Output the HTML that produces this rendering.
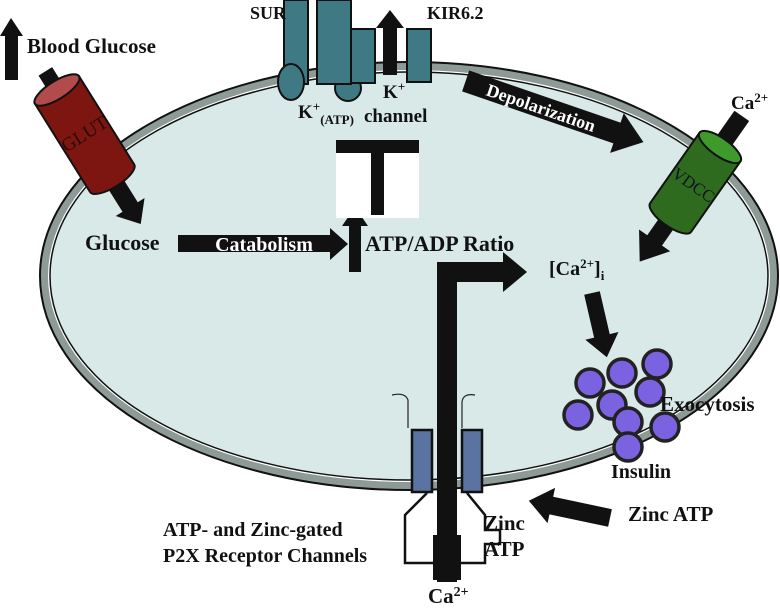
<!DOCTYPE html>
<html><head><meta charset="utf-8"><style>
html,body{margin:0;padding:0;background:#fff;}
svg{display:block;}
text{font-family:"Liberation Serif",serif;font-weight:bold;fill:#111;}
</style></head><body>
<svg width="780" height="608" viewBox="0 0 780 608" xmlns="http://www.w3.org/2000/svg">
<!-- cell -->
<ellipse cx="409" cy="276" rx="369" ry="214" fill="#8e9a96" stroke="#111" stroke-width="2"/>
<ellipse cx="409" cy="276" rx="361" ry="206" fill="#fff" stroke="none"/>
<ellipse cx="409" cy="276" rx="359" ry="204" fill="#d8e9e8" stroke="#111" stroke-width="1.5"/>

<!-- Blood glucose arrow -->
<polygon points="5,80 5,36 0,36 11,18 23,36 18,36 18,80" fill="#111"/>
<text x="27" y="53" font-size="21">Blood Glucose</text>

<!-- GLUT -->
<g transform="translate(57,90) rotate(-32)">
  <rect x="-8" y="-22" width="16" height="14" fill="#111"/>
  <rect x="-9" y="100" width="18" height="40" fill="#111"/>
  <polygon points="-17,138 17,138 0,158" fill="#111"/>
  <path d="M-26,0 L-26,104 A26,9 0 0 0 26,104 L26,0 Z" fill="#7d1610" stroke="#111" stroke-width="2"/>
  <ellipse cx="0" cy="0" rx="26" ry="9" fill="#b24b4b" stroke="#111" stroke-width="2"/>
  <text x="0" y="58" font-size="19" text-anchor="middle" style="fill:#2a0a08;font-weight:normal">GLUT</text>
</g>
<text x="85" y="250" font-size="22">Glucose</text>

<!-- Catabolism arrow -->
<polygon points="178,235 330,235 330,228 348,244 330,260 330,252 178,252" fill="#111"/>
<text x="264" y="251" font-size="20" text-anchor="middle" style="fill:#fff">Catabolism</text>
<!-- up arrow -->
<polygon points="349,272 349,226 342,226 355,207 368,226 361,226 361,272" fill="#111"/>
<!-- T box -->
<rect x="336" y="140" width="83" height="78" fill="#fff"/>
<rect x="336" y="140" width="83" height="13" fill="#111"/>
<rect x="371" y="153" width="13" height="62" fill="#111"/>
<text x="365" y="251" font-size="22">ATP/ADP Ratio</text>

<!-- K channel -->
<rect x="284" y="0" width="24" height="84" fill="#3f7a84" stroke="#111" stroke-width="2"/>
<ellipse cx="291" cy="82" rx="13" ry="18" fill="#3f7a84" stroke="#111" stroke-width="2"/>
<circle cx="348" cy="88" r="13" fill="#3f7a84" stroke="#111" stroke-width="2"/>
<rect x="317" y="0" width="34" height="84" fill="#3f7a84" stroke="#111" stroke-width="2"/>
<rect x="351" y="29" width="24" height="54" fill="#3f7a84" stroke="#111" stroke-width="2"/>
<polygon points="383,75 383,28 376,28 390,10 404,28 397,28 397,75" fill="#111"/>
<rect x="407" y="29" width="24" height="53" fill="#3f7a84" stroke="#111" stroke-width="2"/>
<text x="250" y="19" font-size="18">SUR</text>
<text x="427" y="19" font-size="18">KIR6.2</text>
<text x="383" y="98" font-size="19">K<tspan dy="-7" font-size="13">+</tspan></text>
<text x="364" y="122" font-size="19">channel</text>
<text x="298" y="118" font-size="19">K<tspan dy="-7" font-size="13">+</tspan><tspan dy="13" font-size="13">(ATP)</tspan></text>

<!-- Depolarization -->
<g transform="translate(466,80) rotate(19)">
  <polygon points="0,-10 160,-10 160,-20 188,1 160,22 160,12 0,12" fill="#111"/>
  <text x="80" y="8" font-size="18" text-anchor="middle" style="fill:#fff">Depolarization</text>
</g>

<!-- VDCC -->
<text x="731" y="109" font-size="19">Ca<tspan dy="-7" font-size="13">2+</tspan></text>
<g transform="translate(720,147) rotate(35)">
  <rect x="-9" y="-38" width="18" height="40" fill="#111"/>
  <rect x="-9" y="80" width="18" height="40" fill="#111"/>
  <polygon points="-19,114 19,114 0,140" fill="#111"/>
  <path d="M-25,0 L-25,86 A25,9 0 0 0 25,86 L25,0 Z" fill="#2f6b1e" stroke="#111" stroke-width="2"/>
  <ellipse cx="0" cy="0" rx="25" ry="9" fill="#3f9a2c" stroke="#111" stroke-width="2"/>
  <text x="0" y="52" font-size="17" text-anchor="middle" style="fill:#112;font-weight:normal">VDCC</text>
</g>
<text x="549" y="275" font-size="20">[Ca<tspan dy="-7" font-size="13">2+</tspan><tspan dy="7">]</tspan><tspan dy="5" font-size="13">i</tspan></text>

<!-- arrow down to vesicles -->
<g transform="translate(592,293) rotate(-13)">
  <polygon points="-8,0 8,0 8,44 17,44 0,66 -17,44 -8,44" fill="#111"/>
</g>
<!-- vesicles -->
<g fill="#7b62e0" stroke="#222" stroke-width="3.5">
<circle cx="590" cy="383" r="14"/>
<circle cx="622" cy="373" r="14"/>
<circle cx="657" cy="364" r="14"/>
<circle cx="650" cy="392" r="14"/>
<circle cx="612" cy="405" r="14"/>
<circle cx="578" cy="415" r="14"/>
<circle cx="628" cy="422" r="14"/>
<circle cx="665" cy="427" r="14"/>
<circle cx="628" cy="447" r="14"/>
</g>
<text x="660" y="411" font-size="21">Exocytosis</text>
<text x="611" y="478" font-size="20">Insulin</text>
<text x="628" y="521" font-size="21">Zinc ATP</text>
<g transform="translate(610,518) rotate(-168)">
  <polygon points="0,-9 60,-9 60,-18 83,0 60,18 60,9 0,9" fill="#111"/>
</g>

<!-- P2X -->
<path d="M392,395 Q405,392 408,400 L408,428" fill="none" stroke="#222" stroke-width="1.2"/>
<path d="M475,395 Q463,393 462,402 L462,428" fill="none" stroke="#222" stroke-width="1.2"/>
<rect x="412" y="430" width="20" height="62" fill="#5b73a0" stroke="#111" stroke-width="2.5"/>
<rect x="462" y="430" width="20" height="62" fill="#5b73a0" stroke="#111" stroke-width="2.5"/>
<polyline points="427,493 405,515 405,563 437,563" fill="none" stroke="#111" stroke-width="2.5"/>
<polyline points="467,493 485,515 485,530 500,530 500,544 485,544 485,563 457,563" fill="none" stroke="#111" stroke-width="2.5"/>
<!-- central bar -->
<rect x="437" y="262" width="20" height="320" fill="#111"/>
<rect x="437" y="262" width="68" height="20" fill="#111"/>
<polygon points="503,252 527,272 503,292" fill="#111"/>
<rect x="433" y="535" width="28" height="45" fill="#111"/>
<text x="163" y="536" font-size="20">ATP- and Zinc-gated</text>
<text x="163" y="562" font-size="20">P2X Receptor Channels</text>
<text x="484" y="530" font-size="21">Zinc</text>
<text x="484" y="556" font-size="21">ATP</text>
<text x="428" y="603" font-size="21">Ca<tspan dy="-7" font-size="14">2+</tspan></text>
</svg>
</body></html>
